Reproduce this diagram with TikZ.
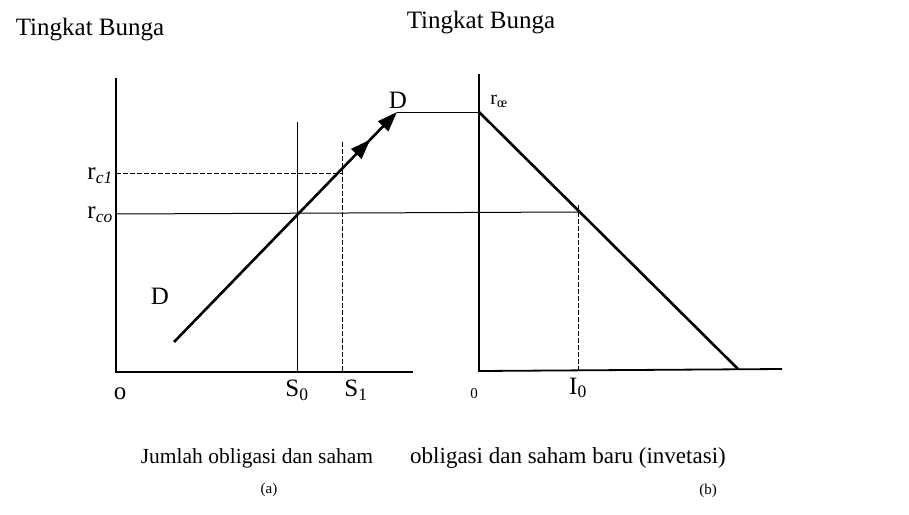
\documentclass[tikz,border=0pt]{standalone}
\usepackage{fontspec}
\setmainfont{Liberation Serif}
\usetikzlibrary{arrows.meta,decorations.markings}
\begin{document}
\begin{tikzpicture}[x=1pt,y=-1pt,
  axisline/.style={line width=1.8pt},
  thinline/.style={line width=1pt},
  dashline/.style={line width=1pt,dash pattern=on 5pt off 2pt},
  curve/.style={line width=2.6pt},
  lbl/.style={inner sep=0pt,font=\fontsize{25}{30}\selectfont},
  small/.style={inner sep=0pt,font=\fontsize{15}{18}\selectfont},
  caption/.style={inner sep=0pt,font=\fontsize{23}{27}\selectfont},
  sub/.style={inner sep=0pt,font=\fontsize{20}{24}\selectfont}]
\useasboundingbox (0,0) rectangle (909,514);
% coordinates
\coordinate (Ao) at (116,372);
\coordinate (Atop) at (116,78);
\coordinate (Aend) at (413,372);
\coordinate (S0t) at (297,122);
\coordinate (S0b) at (297,372);
\coordinate (S1t) at (342,142);
\coordinate (S1b) at (342,372);
\coordinate (rc1l) at (116,173);
\coordinate (rc1r) at (342,173);
\coordinate (rcol) at (116,214);
\coordinate (rcor) at (578,212);
\coordinate (Dlo) at (174,342);
\coordinate (Dhi) at (397,112);
\coordinate (Rtop) at (479,112);
\coordinate (Bo) at (479,371);
\coordinate (Btop) at (479,74);
\coordinate (Bend) at (782,369);
\coordinate (Lend) at (738,369);
\coordinate (I0t) at (578,205);
\coordinate (I0b) at (578,370);
% left panel
\draw[axisline] (Atop) -- (Ao) -- (Aend);
\draw[thinline] (S0t) -- (S0b);
\draw[dashline] (S1t) -- (S1b);
\draw[dashline] (rc1l) -- (rc1r);
\draw[thinline] (rcol) -- (rcor);
\draw[curve,-{Triangle[length=20pt,width=14pt]},
  postaction={decorate,decoration={markings,
    mark=at position 0.88 with {\arrow{Triangle[length=20pt,width=14pt]}}}}]
  (Dlo) -- (Dhi);
\draw[thinline] (Dhi) -- (Rtop);
% right panel
\draw[axisline] (Btop) -- (Bo) -- (Bend);
\draw[curve] (Rtop) -- (Lend);
\draw[dashline] (I0t) -- (I0b);
% labels
\node[lbl,anchor=base] (tb1) at (90,35) {Tingkat Bunga};
\node[lbl,anchor=base] (tb2) at (481,28) {Tingkat Bunga};
\node[lbl] (Dtop) at (398,100) {D};
\node[lbl] (Dlow) at (160,296) {D};
\node[lbl,anchor=east] (lrc1) at (113,176) {r\textsubscript{\itshape c1}};
\node[lbl,anchor=east] (lrco) at (113,215) {r\textsubscript{\itshape co}};
\node[sub] (lrce) at (499,101) {r\textsubscript{œ}};
\node[lbl] (lO) at (120,394) {o};
\node[lbl] (lS0) at (297,390) {S\textsubscript{0}};
\node[lbl] (lS1) at (356,390) {S\textsubscript{1}};
\node[small] (lzero) at (474,394) {0};
\node[lbl] (lI0) at (578,388) {I\textsubscript{0}};
\node[caption,font=\fontsize{21.5}{26}\selectfont] (capa) at (257,458) {Jumlah obligasi dan saham};
\node[caption] (capb) at (568,458) {obligasi dan saham baru (invetasi)};
\node[small] (pa) at (269,490) {(a)};
\node[small] (pb) at (708,491) {(b)};
\end{tikzpicture}
\end{document}
